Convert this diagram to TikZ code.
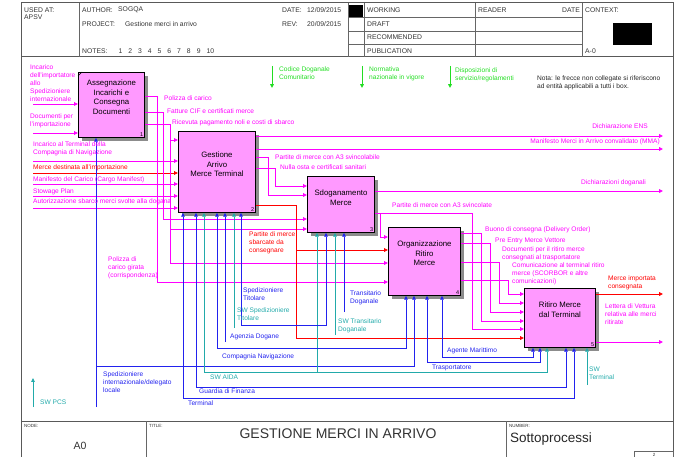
\documentclass[tikz,border=0pt]{standalone}
\usepackage{fontspec}
\setmainfont{Liberation Sans}
\usetikzlibrary{positioning,arrows.meta,shadows}
\definecolor{idmag}{HTML}{FF00FF}
\definecolor{idred}{HTML}{FF0000}
\definecolor{idblue}{HTML}{2222EE}
\definecolor{idteal}{HTML}{22AAAA}
\definecolor{idgreen}{HTML}{22DD22}
\definecolor{idpink}{HTML}{FF99FF}
\tikzset{
  af frame/.style={draw=black!65, line width=1pt},
  af grid/.style={draw=black!60, line width=0.6pt},
  af box/.style={draw=black, line width=0.9pt, fill=idpink, anchor=north west, inner sep=0pt,
                 drop shadow={shadow xshift=4pt, shadow yshift=-4pt, fill=black!45, opacity=1}},
  af txt/.style={font=\fontsize{7.8}{9.5}\selectfont, align=center, inner sep=0pt, text=black},
  af num/.style={font=\fontsize{5.5}{6}\selectfont, inner sep=1.6pt, anchor=south east},
  af ln/.style={line width=0.7pt},
  af tip/.style={-{Triangle[length=3.8pt,width=3.6pt]}},
  af both/.style={{Triangle[length=3.8pt,width=3.6pt]}-{Triangle[length=3.8pt,width=3.6pt]}},
  af mg/.style={af ln, idmag},
  af rd/.style={af ln, idred},
  af bl/.style={af ln, idblue},
  af tl/.style={af ln, idteal},
  af gr/.style={line width=1pt, idgreen, af tip},
  af lbl/.style={font=\fontsize{6.6}{7.9}\selectfont, inner sep=0pt, anchor=north west, align=left},
  af head/.style={font=\fontsize{6.8}{8}\selectfont, inner sep=0pt, anchor=west, text=black!80},
  af tiny/.style={font=\fontsize{4.5}{5}\selectfont, inner sep=0pt, anchor=west, text=black!80},
}
\begin{document}
\begin{tikzpicture}[x=1pt, y=-1pt]
  \useasboundingbox (0,0) rectangle (679,457);
  % frame, header and title block
  \draw[af frame] (21,3) rectangle (673,470);
  \draw[af frame] (21,57) -- (673,57);
  \draw[af frame] (21,421) -- (673,421);
  \foreach \xx in {79,348,364,475,582} \draw[af grid] (\xx,3) -- (\xx,57);
  \foreach \yy in {17,31,44} \draw[af grid] (348,\yy) -- (582,\yy);
  \fill (349,5) rectangle (363,17);
  \fill (613,23) rectangle (652,45);
  \draw[af grid] (146,421) -- (146,470);
  \draw[af grid] (506,421) -- (506,470);
  \draw[af grid] (634,451) rectangle (673,470);
  \node[af head] (hUA) at (24,10) {USED AT:};
  \node[af head] (hAP) at (24,17) {APSV};
  \node[af head] (hAU) at (82,10) {AUTHOR:};
  \node[af head] (hAUv) at (118,10) {SOGQA};
  \node[af head] (hPR) at (82,24) {PROJECT:};
  \node[af head] (hPRv) at (125,24) {Gestione merci in arrivo};
  \node[af head] (hNO) at (82,51) {NOTES:\hspace{11pt}1\hspace{6pt}2\hspace{6pt}3\hspace{6pt}4\hspace{6pt}5\hspace{6pt}6\hspace{6pt}7\hspace{6pt}8\hspace{6pt}9\hspace{6pt}10};
  \node[af head] (hDA) at (282,10) {DATE:};
  \node[af head] (hDAv) at (307,10) {12/09/2015};
  \node[af head] (hRE) at (282,24) {REV:};
  \node[af head] (hREv) at (307,24) {20/09/2015};
  \foreach \nm/\yy/\tx in {hW/10/WORKING, hD/24/DRAFT, hR/37/RECOMMENDED, hP/51/PUBLICATION}
    \node[af head] (\nm) at (367,\yy) {\tx};
  \node[af head] (hRD) at (478,10) {READER};
  \node[af head, anchor=east] (hDT) at (580,10) {DATE};
  \node[af head] (hCX) at (585,10) {CONTEXT:};
  \node[af head] (hA0) at (585,51) {A-0};
  \node[af tiny] (tNO) at (24,426) {NODE:};
  \node[af tiny] (tTI) at (149,426) {TITLE:};
  \node[af tiny] (tNU) at (509,426) {NUMBER:};
  \node[font=\fontsize{10.5}{12}\selectfont, text=black!80] (tA0) at (80,446) {A0};
  \node[font=\fontsize{14}{16}\selectfont, text=black!80] (tTL) at (338,434) {GESTIONE MERCI IN ARRIVO};
  \node[font=\fontsize{13.5}{16}\selectfont, text=black!85, anchor=west, inner sep=0pt] (tSP) at (510,439) {Sottoprocessi};
  \node[af tiny, anchor=center] (tPG) at (654,455) {2};

  % activity boxes
  \node[af box, minimum width=66pt, minimum height=65pt] (b1) at (78,72) {};
  \node[af box, minimum width=77pt, minimum height=81pt] (b2) at (178,131) {};
  \node[af box, minimum width=67pt, minimum height=56pt] (b3) at (307,176) {};
  \node[af box, minimum width=72pt, minimum height=68pt] (b4) at (388,227) {};
  \node[af box, minimum width=71pt, minimum height=59pt] (b5) at (524,288) {};
  \node[af txt, below=8pt of b1.north] (t1) {Assegnazione\\Incarichi e\\Consegna\\Documenti};
  \node[af txt, below=21pt of b2.north] (t2) {Gestione\\Arrivo\\Merce Terminal};
  \node[af txt, below=14pt of b3.north] (t3) {Sdoganamento\\Merce};
  \node[af txt, below=14pt of b4.north] (t4) {Organizzazione\\Ritiro\\Merce};
  \node[af txt, below=14pt of b5.north] (t5) {Ritiro Merce\\dal Terminal};
  \foreach \bx/\nn in {b1/1, b2/2, b3/3, b4/4, b5/5}
    \node[af num] (n\nn) at (\bx.south east) {\nn};
  \draw[line width=0.5pt] ([yshift=-4pt]b1.north west) -- ([xshift=4pt]b1.north west);

  % inputs from the left
  \coordinate (s1a) at (33,104);
  \coordinate (s1b) at (33,133);
  \draw[af mg, af tip] (s1a) -- (b1.west |- s1a);
  \draw[af mg, af tip] (s1b) -- (b1.west |- s1b);
  \foreach \nm/\yy/\cl in {s2a/161/idmag, s2b/173/idred, s2c/184/idmag, s2d/196/idmag, s2e/208/idmag} {
    \coordinate (\nm) at (33,\yy);
    \draw[af ln, af tip, \cl] (\nm) -- (b2.west |- \nm);
  }

  % outputs of box 1
  \draw[af mg, af tip] (b1.east |- 0,96) -| (157,282) -- (b4.west |- 0,282);
  \draw[af mg, af tip] (b1.east |- 0,112) -| (163,219) -- (b3.west |- 0,219);
  \draw[af mg, af tip] (b1.east |- 0,124) -| (170,263) -- (b4.west |- 0,263);
  \draw[af mg, af tip] (170,140) -- (b2.west |- 0,140);
  \draw[af mg, af tip] (170,229) -- (b3.west |- 0,229);

  % outputs of box 2
  \coordinate (eENS) at (663,136);
  \coordinate (eMMA) at (663,149);
  \draw[af mg, af tip] (b2.east |- eENS) -- (eENS);
  \draw[af mg, af tip] (b2.east |- eMMA) -- (eMMA);
  \draw[af mg, af tip] (b2.east |- 0,157) -| (268,195) -- (b3.west |- 0,195);
  \draw[af mg, af tip] (b2.east |- 0,168) -| (275,186) -- (b3.west |- 0,186);
  \draw[af rd, af tip] (b2.east |- 0,205) -| (296,338) -- (b5.west |- 0,338);
  \draw[af rd, af tip] (296,250) -- (b4.west |- 0,250);

  % outputs of box 3
  \coordinate (eDD) at (663,191);
  \draw[af mg, af tip] (b3.east |- eDD) -- (eDD);
  \draw[af mg, af tip] (b3.east |- 0,213) -| (472,329) -- (b5.west |- 0,329);
  \draw[af mg, af tip] (380,213) |- (b4.west |- 0,237);

  % outputs of box 4
  \foreach \ya/\xx/\yb in {233/481/321, 243/490/312, 262/499/303, 280/508/294}
    \draw[af mg, af tip] (b4.east |- 0,\ya) -| (\xx,\yb) -- (b5.west |- 0,\yb);

  % outputs of box 5
  \coordinate (eMI) at (663,294);
  \coordinate (eLV) at (663,342);
  \draw[af rd, af tip] (b5.east |- eMI) -- (eMI);
  \draw[af mg, af tip] (b5.east |- eLV) -- (eLV);

  % controls
  \foreach \na/\nb/\xx in {cCDa/cCDb/272, cNNa/cNNb/362, cDSa/cDSb/450} {
    \coordinate (\na) at (\xx,66);
    \coordinate (\nb) at (\xx,88);
    \draw[af gr] (\na) -- (\nb);
  }

  % mechanisms
  \coordinate (mSI) at (96,407);
  \draw[af bl, af tip] (mSI) -- (mSI |- b1.south);
  \draw[af bl, af tip] (96,366) -| (b4.south -| 414,0);
  \draw[af bl, af both] (b2.south -| 183,0) |- (574,398) -- (b5.south -| 574,0);
  \draw[af bl, af both] (b2.south -| 196,0) |- (566,387) -- (b5.south -| 566,0);
  \draw[af tl, af both] (b2.south -| 204,0) |- (547,372) -- (b5.south -| 547,0);
  \draw[af tl, af tip] (317,372) -- (b3.south -| 317,0);
  \draw[af bl, af both] (b2.south -| 217,0) |- (406,348) -- (b4.south -| 406,0);
  \draw[af bl, af both] (b2.south -| 241,0) |- (326,325) -- (b3.south -| 326,0);
  \draw[af bl, af both] (b4.south -| 442,0) |- (533,357) -- (b5.south -| 533,0);
  \draw[af bl, af both] (b4.south -| 427,0) |- (540,362) -- (b5.south -| 540,0);
  \coordinate (mAD) at (225,342);
  \coordinate (mSWS) at (234,328);
  \coordinate (mSWT) at (335,335);
  \coordinate (mTD) at (344,312);
  \coordinate (mSWR) at (587,385);
  \draw[af bl, af tip] (mAD) -- (mAD |- b2.south);
  \draw[af tl, af tip] (mSWS) -- (mSWS |- b2.south);
  \draw[af tl, af tip] (mSWT) -- (mSWT |- b3.south);
  \draw[af bl, af tip] (mTD) -- (mTD |- b3.south);
  \draw[af tl, af tip] (mSWR) -- (mSWR |- b5.south);
  \coordinate (mPCSa) at (33,407);
  \coordinate (mPCSb) at (33,378);
  \draw[af tl, af tip] (mPCSa) -- (mPCSb);

  % labels
  \node[af lbl, idmag] (lIN) at (30,64.5) {Incarico\\dell'importatore\\allo\\Spedizioniere\\internazionale};
  \node[af lbl, idmag] (lDI) at (30,113.5) {Documenti per\\l'importazione};
  \node[af lbl, idmag] (lIT) at (33,141.5) {Incarico al Terminal della\\Compagnia di Navigazione};
  \node[af lbl, idred] (lMD) at (33,164.5) {Merce destinata all'importazione};
  \node[af lbl, idmag] (lMC) at (33,176.5) {Manifesto del Carico (Cargo Manifest)};
  \node[af lbl, idmag] (lSP) at (33,188.5) {Stowage Plan};
  \node[af lbl, idmag] (lAS) at (33,198.5) {Autorizzazione sbarco merci svolte alla dogana};
  \node[af lbl, idmag] (lPC) at (164,95.5) {Polizza di carico};
  \node[af lbl, idmag] (lFC) at (167,108.5) {Fatture CIF e certificati merce};
  \node[af lbl, idmag] (lRP) at (172,119.5) {Ricevuta pagamento noli e costi di sbarco};
  \node[af lbl, idmag, anchor=north east] (lENS) at (648,123.5) {Dichiarazione ENS};
  \node[af lbl, idmag, anchor=north east] (lMMA) at (660,138.5) {Manifesto Merci in Arrivo convalidato (MMA)};
  \node[af lbl, idmag, anchor=north east] (lDD) at (646,179.5) {Dichiarazioni doganali};
  \node[af lbl, idmag] (lPA) at (275,154.5) {Partite di merce con A3 svincolabile};
  \node[af lbl, idmag] (lNO) at (280,164.5) {Nulla osta e certificati sanitari};
  \node[af lbl, idmag] (lPS) at (392,202.5) {Partite di merce con A3 svincolate};
  \node[af lbl, idmag] (lBC) at (485,226.5) {Buono di consegna (Delivery Order)};
  \node[af lbl, idmag] (lPE) at (495,237.5) {Pre Entry Merce Vettore};
  \node[af lbl, idmag] (lDR) at (502,246.5) {Documenti per il ritiro merce\\consegnati al trasportatore};
  \node[af lbl, idmag] (lCT) at (512,262.5) {Comunicazione al terminal ritiro\\merce (SCORBOR e altre\\comunicazioni)};
  \node[af lbl, idmag] (lLV) at (605,303.5) {Lettera di Vettura\\relativa alle merci\\ritirate};
  \node[af lbl, idmag] (lPG) at (108,256.5) {Polizza di\\carico girata\\(corrispondenza)};
  \node[af lbl, idred] (lSC) at (249,231.5) {Partite di merce\\sbarcate da\\consegnare};
  \node[af lbl, idred] (lMI) at (608,275.5) {Merce importata\\consegnata};
  \node[af lbl, idgreen] (lCD) at (279,66.5) {Codice Doganale\\Comunitario};
  \node[af lbl, idgreen] (lNN) at (369,66.5) {Normativa\\nazionale in vigore};
  \node[af lbl, idgreen] (lDS) at (455,67.5) {Disposizioni di\\servizio/regolamenti};
  \node[af lbl, text=black!85] (lNT) at (537,75.5) {Nota: le frecce non collegate si riferiscono\\ad entità applicabili a tutti i box.};
  \node[af lbl, idblue] (lSI) at (103,371.5) {Spedizioniere\\internazionale/delegato\\locale};
  \node[af lbl, idblue] (lTE) at (188,400.5) {Terminal};
  \node[af lbl, idblue] (lGF) at (199,388.5) {Guardia di Finanza};
  \node[af lbl, idblue] (lCN) at (222,353.5) {Compagnia Navigazione};
  \node[af lbl, idblue] (lAD) at (230,333.5) {Agenzia Dogane};
  \node[af lbl, idblue] (lST) at (243,287.5) {Spedizioniere\\Titolare};
  \node[af lbl, idblue] (lTD) at (350,290.5) {Transitario\\Doganale};
  \node[af lbl, idblue] (lAM) at (447,347.5) {Agente Marittimo};
  \node[af lbl, idblue] (lTR) at (432,364.5) {Trasportatore};
  \node[af lbl, idteal] (lSWS) at (237,307.5) {SW Spedizioniere\\Titolare};
  \node[af lbl, idteal] (lSWT) at (338,318.5) {SW Transitario\\Doganale};
  \node[af lbl, idteal] (lSWA) at (210,374.5) {SW AIDA};
  \node[af lbl, idteal] (lSWR) at (589,366.5) {SW\\Terminal};
  \node[af lbl, idteal] (lSWP) at (40,399.5) {SW PCS};
\end{tikzpicture}
\end{document}
